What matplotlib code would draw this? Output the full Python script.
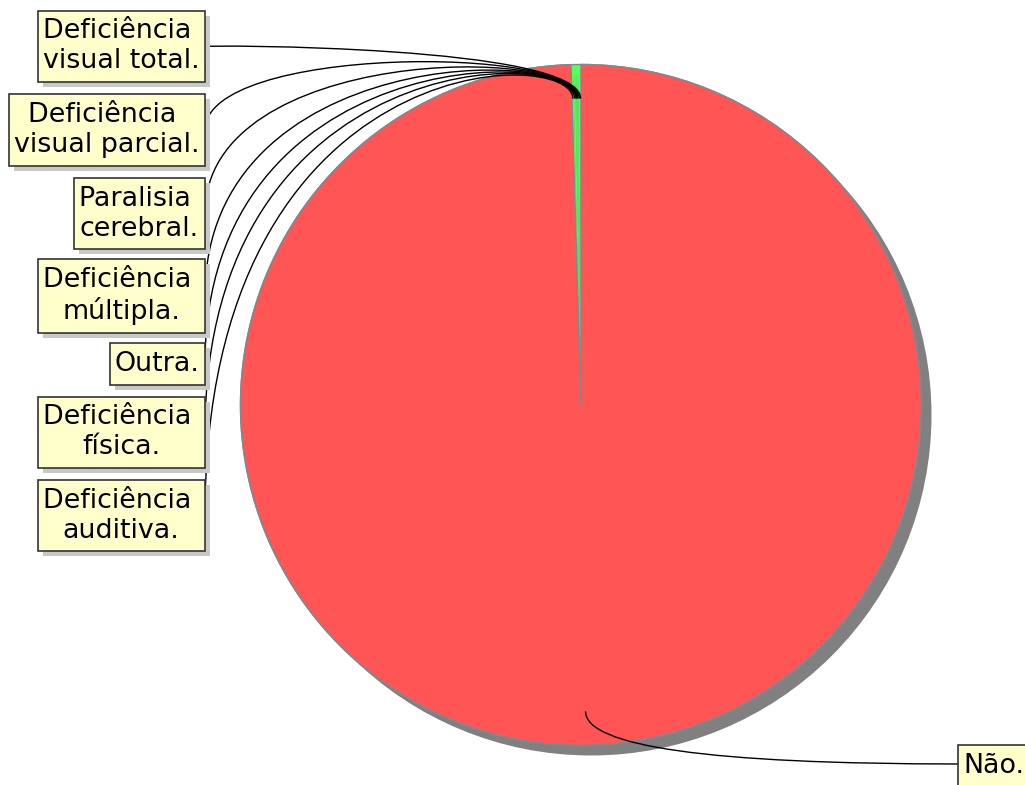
import matplotlib
matplotlib.use('Agg')
import matplotlib.pyplot as plt
import matplotlib.patheffects as pe
from matplotlib.patches import Circle, PathPatch
from matplotlib.path import Path
import numpy as np

categories = ['Deficiência \nvisual total.', 'Deficiência \nvisual parcial.', 'Paralisia \ncerebral.',
              'Deficiência \nmúltipla.', 'Outra.', 'Deficiência \nfísica.', 'Deficiência \nauditiva.', 'Não.']
values = [1, 2, 1, 1, 1, 2, 2, 2120]
colors = ['#55ff55'] * 7 + ['#ff5555']

W, H = 1025, 785
fig = plt.figure(figsize=(10.25, 7.85), dpi=100)
ax = fig.add_axes([0, 0, 1, 1])

def Y(y):
    return H - y

cx, cy, R = 581.0, Y(405.0), 340.5

# shadow
ax.add_patch(Circle((cx + 10, cy - 10), R, fc='#808080', ec='none', zorder=0))

wedges, _ = ax.pie(values, colors=colors, startangle=90, counterclock=True,
                   center=(cx, cy), radius=R,
                   wedgeprops=dict(linewidth=0, edgecolor='none', antialiased=True))
for w in wedges:
    w.set_zorder(1)
wedges[-1].set_edgecolor('#808890')
wedges[-1].set_linewidth(1.0)
ax.add_patch(Circle((cx, cy), R, fc='none', ec='#808890', lw=1.0, zorder=2))

# anchors
anchors = []
for w in wedges:
    mid = np.deg2rad((w.theta1 + w.theta2) / 2)
    anchors.append((cx + 0.9 * R * np.cos(mid), cy + 0.9 * R * np.sin(mid)))

label_y = [46.5, 130, 213.5, 296, 364, 432.5, 515.5]
shadow = [pe.SimplePatchShadow(offset=(3.6, -3.6), shadow_rgbFace='#c8c8c8', alpha=1), pe.Normal()]
box = dict(boxstyle='square,pad=0.19', fc='#ffffcc', ec='#333333', lw=1.2, mutation_aspect=1.5)
FS = 19.4

yc = Y(45)
for i, yb in enumerate(label_y):
    t = ax.text(199.5, Y(yb), categories[i], ha='right', va='center', multialignment='center',
                fontsize=FS, bbox=box, zorder=5, family='DejaVu Sans', linespacing=1.2)
    t.get_bbox_patch().set_path_effects(shadow)
    p0 = (205, Y(yb))
    ax_, ay_ = anchors[i]
    verts = [p0, (205, yc), (ax_, yc), (ax_, ay_)]
    path = Path(verts, [Path.MOVETO, Path.CURVE4, Path.CURVE4, Path.CURVE4])
    ax.add_patch(PathPatch(path, fc='none', ec='black', lw=1.0, zorder=4))

# Não label
t = ax.text(963, Y(766), categories[-1], ha='left', va='center', fontsize=FS,
            bbox=box, zorder=5, family='DejaVu Sans', clip_on=False)
t.get_bbox_patch().set_path_effects(shadow)
ax_, ay_ = anchors[-1]
verts = [(ax_, ay_), (ax_, Y(764)), (958, Y(764))]
path = Path(verts, [Path.MOVETO, Path.CURVE3, Path.CURVE3])
ax.add_patch(PathPatch(path, fc='none', ec='black', lw=1.0, zorder=4))

ax.set_xlim(0, W)
ax.set_ylim(0, H)
ax.set_aspect('auto')
ax.axis('off')
fig.savefig('out.png', dpi=100, facecolor='white')
